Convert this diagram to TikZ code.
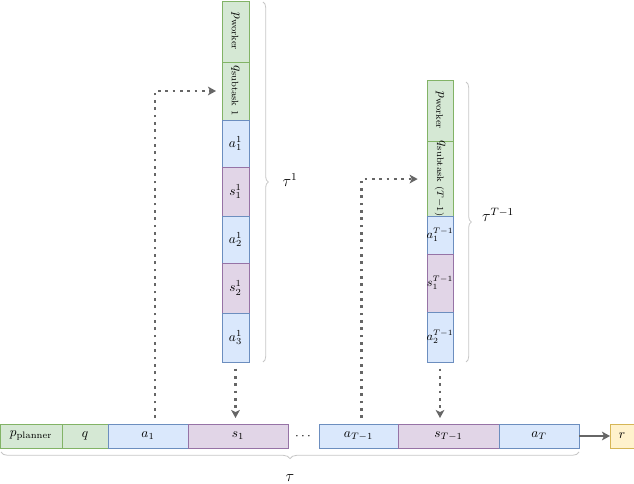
\documentclass[tikz,border=0pt]{standalone}
\usetikzlibrary{arrows.meta,calc,decorations.pathreplacing}
\definecolor{gfill}{HTML}{D5E8D4}\definecolor{gline}{HTML}{82B366}
\definecolor{bfill}{HTML}{DAE8FC}\definecolor{bline}{HTML}{6C8EBF}
\definecolor{pfill}{HTML}{E1D5E7}\definecolor{pline}{HTML}{9673A6}
\definecolor{yfill}{HTML}{FFF2CC}\definecolor{yline}{HTML}{D6B656}
\definecolor{arr}{HTML}{666666}
\begin{document}
\begin{tikzpicture}[x=0.75pt,y=-0.75pt,
  cell/.style 2 args={draw, minimum width=#1*0.75pt, minimum height=#2*0.75pt,
    inner sep=0pt, outer sep=0pt, anchor=north west, line width=0.6pt},
  gbox/.style={fill=gfill, draw=gline},
  bbox/.style={fill=bfill, draw=bline},
  pbox/.style={fill=pfill, draw=pline},
  ybox/.style={fill=yfill, draw=yline},
  narrow/.style={font=\small},
  dotarrow/.style={draw=arr, line width=2pt, dash pattern=on 2pt off 3.5pt,
    -{Stealth[length=6pt,width=6.5pt,inset=1.5pt]}},
  solidarrow/.style={draw=arr, line width=1.2pt, -{Stealth[length=6pt,width=6.5pt,inset=1.5pt]}},
  bracedeco/.style={draw=gray!45, line width=0.6pt, decorate, decoration={brace, amplitude=#1}},
  taulabel/.style={font=\large, inner sep=0pt}
]
\useasboundingbox (0,0) rectangle (634,484);

% bottom row
\node[cell={62}{24}, gbox] (pp) at (0,424) {$p_{\mathrm{planner}}$};
\node[cell={46}{24}, gbox] (q) at (62,424) {$q$};
\node[cell={80}{24}, bbox] (a1) at (108,424) {$a_1$};
\node[cell={100}{24}, pbox] (s1) at (188,424) {$s_1$};
\node (dots) at (303,437) {$\cdots$};
\node[cell={79}{24}, bbox] (aTm) at (319,424) {$a_{T-1}$};
\node[cell={101}{24}, pbox] (sTm) at (398,424) {$s_{T-1}$};
\node[cell={80}{24}, bbox] (aT) at (499,424) {$a_T$};
\node[cell={24}{24}, ybox] (r) at (610,424) {$r$};

% column 1
\node[cell={27}{61}, gbox] (pw1) at (222,1) {\rotatebox{-90}{$p_{\mathrm{worker}}$}};
\node[cell={27}{58}, gbox] (qs1) at (222,62) {\rotatebox{-90}{$q_{\mathrm{subtask}\ 1}$}};
\node[cell={27}{47}, bbox] (a11) at (222,120) {$a^1_1$};
\node[cell={27}{49}, pbox] (s11) at (222,167) {$s^1_1$};
\node[cell={27}{47}, bbox] (a12) at (222,216) {$a^1_2$};
\node[cell={27}{50}, pbox] (s12) at (222,263) {$s^1_2$};
\node[cell={27}{49}, bbox] (a13) at (222,313) {$a^1_3$};

% column 2
\node[cell={26}{61}, gbox] (pw2) at (427,80) {\rotatebox{-90}{$p_{\mathrm{worker}}$}};
\node[cell={26}{75}, gbox] (qs2) at (427,141) {\rotatebox{-90}{$q_{\mathrm{subtask}\ (T-1)}$}};
\node[cell={26}{38}, bbox, narrow] (a21) at (427,216) {\makebox[0pt]{$a^{T-1}_1$}};
\node[cell={26}{58}, pbox, narrow] (s21) at (427,254) {\makebox[0pt]{$s^{T-1}_1$}};
\node[cell={26}{50}, bbox, narrow] (a22) at (427,312) {\makebox[0pt]{$a^{T-1}_2$}};

% dotted connectors
\draw[dotarrow, shorten <=4.5pt, shorten >=4.5pt] ($(a1.north)+(7,0)$) |- (qs1.west);
\draw[dotarrow, shorten <=4.5pt, shorten >=7pt] ($(aTm.north)+(3,0)$) |- (qs2.west);
\draw[dotarrow, shorten <=5pt, shorten >=4.5pt] (a13.south) -- (a13.south |- s1.north);
\draw[dotarrow, shorten <=5pt, shorten >=4.5pt] (a22.south) -- (a22.south |- sTm.north);
\draw[solidarrow] (aT.east) -- (r.west);

% braces
\coordinate (b1t) at (263,2);
\coordinate (b1b) at (263,362);
\draw[bracedeco=4pt] (b1t) -- (b1b);
\node[taulabel] (t1) at (290,180) {$\tau^1$};
\coordinate (b2t) at (466,82);
\coordinate (b2b) at (466,362);
\draw[bracedeco=4pt] (b2t) -- (b2b);
\node[taulabel] (t2) at (498,215) {$\tau^{T-1}$};
\coordinate (b3r) at (579,452);
\coordinate (b3l) at (1,452);
\draw[bracedeco=5pt] (b3r) -- (b3l);
\node[taulabel] (t3) at (290,478) {$\tau$};
\end{tikzpicture}
\end{document}
